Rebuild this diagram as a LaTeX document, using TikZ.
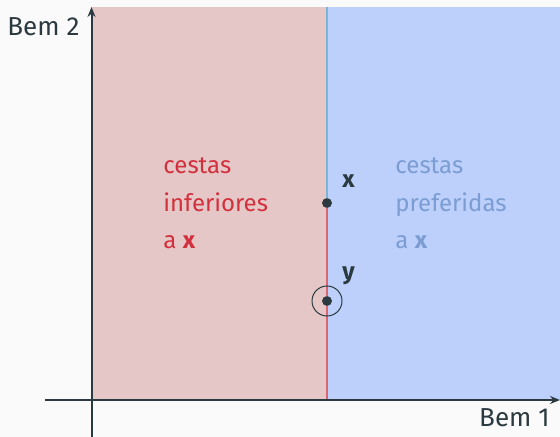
\documentclass[tikz,border=0pt]{standalone}
\usepackage{fontspec}
\setmainfont{Fira Sans}
\usetikzlibrary{arrows.meta}
\definecolor{bg}{HTML}{FAFAFA}
\definecolor{pinkfill}{HTML}{E5C7C8}
\definecolor{bluefill}{HTML}{BCD0FB}
\definecolor{axiscol}{HTML}{2B3A40}
\definecolor{redtxt}{HTML}{D2303C}
\definecolor{bluetxt}{HTML}{7C9DD3}
\definecolor{redline}{HTML}{DA6670}
\definecolor{cyanline}{HTML}{7DB4D4}
\tikzset{
  axis/.style={draw=axiscol, line width=1pt, -{Stealth[length=5pt,width=4pt]}},
  axlabel/.style={text=axiscol, font=\fontsize{13}{15}\selectfont, inner sep=0pt},
  region/.style={font=\fontsize{12}{14}\selectfont, inner sep=0pt, anchor=base west},
  ptdot/.style={circle, fill=axiscol, inner sep=0pt, minimum size=4.8pt},
  ptlabel/.style={text=axiscol, font=\fontsize{12}{14}\selectfont\bfseries, inner sep=0pt, anchor=base west}
}
\begin{document}
\begin{tikzpicture}[x=0.5pt,y=-0.5pt]
\useasboundingbox (0,0) rectangle (560,437);
\fill[bg] (0,0) rectangle (560,437);
\fill[pinkfill] (91.5,7) rectangle (327,400);
\fill[bluefill] (327,7) rectangle (560,400);
\coordinate (top) at (327,7);
\coordinate (bot) at (327,400);
\node[ptdot] (x) at (327,203) {};
\node[ptdot] (y) at (327,301) {};
\draw[cyanline, line width=1pt] (top) -- (x.center);
\draw[redline, line width=1pt] (x.center) -- (bot);
\node[ptdot] at (327,203) {};
\node[ptdot] at (327,301) {};
\node[circle, draw=axiscol, line width=0.5pt, minimum size=15pt, inner sep=0pt] (yc) at (y) {};
\coordinate (xstart) at (45,400);
\coordinate (xend) at (560,400);
\coordinate (ystart) at (91.5,437);
\coordinate (yend) at (91.5,7);
\draw[axis] (xstart) -- (xend);
\draw[axis] (ystart) -- (yend);
\node[axlabel, anchor=base west] (b2) at (7,36) {Bem 2};
\node[axlabel, anchor=base east] (b1) at (550,426) {Bem 1};
\node[ptlabel] (xl) at (342,188) {x};
\node[ptlabel] (yl) at (342,279) {y};
\node[region, text=redtxt] (l1) at (163,174) {cestas};
\node[region, text=redtxt] (l2) at (163,212) {inferiores};
\node[region, text=redtxt] (l3) at (163,249) {a \textbf{x}};
\node[region, text=bluetxt] (r1) at (395,174) {cestas};
\node[region, text=bluetxt] (r2) at (395,212) {preferidas};
\node[region, text=bluetxt] (r3) at (395,249) {a \textbf{x}};
\end{tikzpicture}
\end{document}
